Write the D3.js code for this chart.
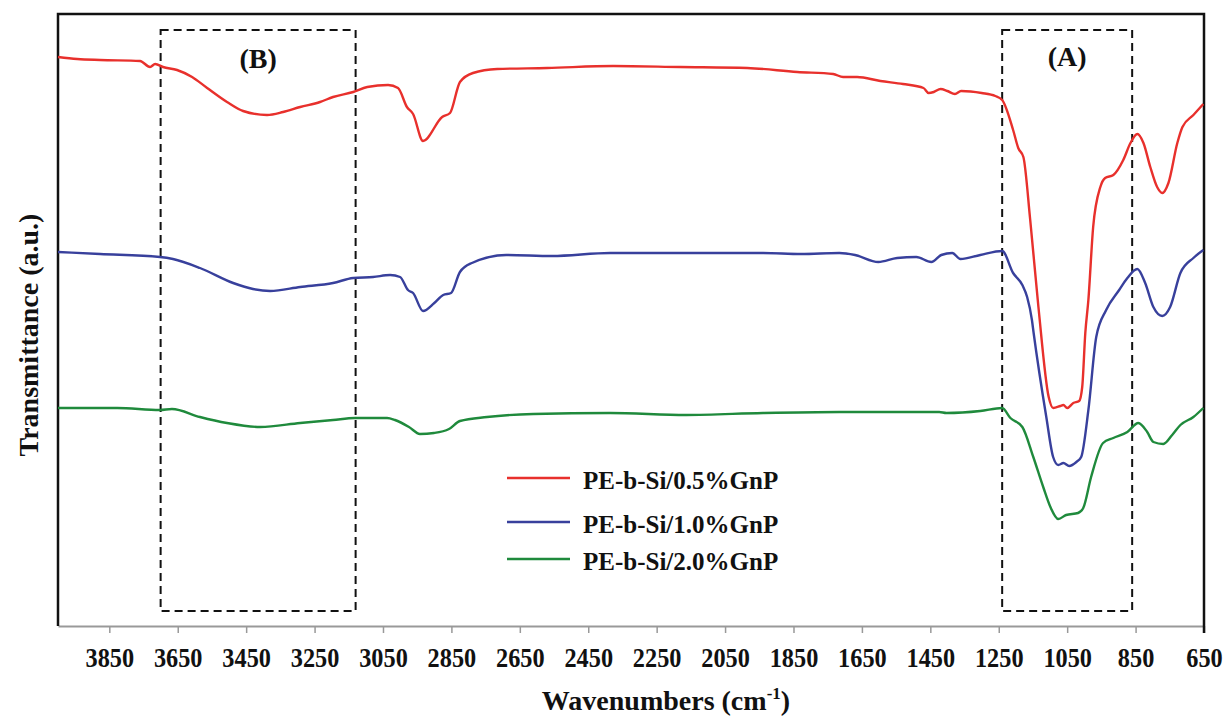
<!DOCTYPE html>
<html><head><meta charset="utf-8">
<script src="https://cdn.jsdelivr.net/npm/d3@7"></script>
<style>body{margin:0;background:#fff}svg{display:block}text{font-family:"Liberation Serif","Times New Roman",serif;font-weight:bold;fill:#111}</style>
</head><body><svg id="c" width="1226" height="717"></svg>
<script>
// ---- data ----
const seriesNames = ["PE-b-Si/0.5%GnP","PE-b-Si/1.0%GnP","PE-b-Si/2.0%GnP"];
const redWn = [4000,3944,3877,3760,3731,3716,3693,3652,3608,3564,3506,3459,3389,3342,3292,3234,3196,3137,3096,3035,3006,2980,2962,2933,2877,2854,2825,2787,2716,2570,2377,2181,1985,1839,1734,1705,1664,1596,1530,1470,1455,1440,1420,1400,1378,1360,1300,1260,1240,1208,1193,1178,1158,1134,1104,1091,1070,1061,1050,1032,1015,1006,997,988,974,953,939,915,886,865,845,827,807,787,772,754,728,713,681,652];
const redT  = [56.9,56.7,56.6,56.5,55.9,56.2,55.9,55.6,54.9,53.8,52.4,51.5,51.1,51.4,51.9,52.4,52.9,53.4,53.9,54.1,53.8,51.9,51.2,48.5,50.9,51.3,54.4,55.3,55.7,55.8,56.0,55.9,55.8,55.4,55.2,54.9,54.9,54.5,54.2,53.8,53.3,53.4,53.7,53.5,53.2,53.5,53.3,53.0,52.6,49.6,47.8,46.9,40.6,31.9,22.9,21.8,22.0,22.1,21.8,22.3,22.5,23.9,29.3,32.6,39.9,43.9,44.8,45.1,46.6,48.3,49.2,48.3,45.9,43.9,43.3,44.3,48.3,49.9,51.1,52.2];
const blueWn = [4000,3877,3702,3664,3585,3488,3430,3380,3292,3196,3137,3079,3029,3000,2977,2962,2933,2900,2874,2851,2825,2790,2690,2556,2386,2164,1939,1828,1716,1670,1602,1547,1491,1447,1418,1386,1362,1304,1240,1208,1181,1167,1153,1148,1111,1091,1076,1061,1044,1023,1009,988,965,936,898,874,845,822,798,772,749,719,681,652];
const blueT  = [37.4,37.2,36.9,36.7,35.8,34.3,33.7,33.5,33.9,34.3,34.8,34.9,35.1,34.9,33.6,33.3,31.5,32.3,33.1,33.3,35.4,36.3,37.1,37.0,37.3,37.3,37.3,37.2,37.3,37.1,36.4,36.8,36.9,36.4,37.1,37.3,36.7,37.1,37.5,35.3,34.1,32.9,30.6,29.3,20.9,16.9,16.1,16.3,16.0,16.4,16.9,21.6,28.9,31.6,33.6,34.8,35.7,34.3,31.9,31.0,31.9,35.3,36.8,37.6];
const greenWn = [4000,3827,3702,3667,3585,3506,3409,3292,3196,3132,3038,3015,2974,2942,2901,2857,2825,2746,2611,2386,2164,1939,1716,1491,1424,1403,1304,1240,1216,1181,1149,1120,1099,1076,1053,1018,1003,980,945,915,874,842,816,798,769,743,719,681,652];
const greenT  = [21.8,21.8,21.6,21.7,20.9,20.3,19.9,20.3,20.6,20.8,20.8,20.6,19.9,19.2,19.3,19.7,20.5,20.9,21.2,21.3,21.1,21.3,21.4,21.4,21.4,21.3,21.5,21.8,20.8,19.9,16.9,13.9,11.9,10.7,11.1,11.3,11.8,14.9,18.3,18.8,19.4,20.3,19.4,18.4,18.2,19.1,20.1,20.9,21.8];
const xTicks = [3850,3650,3450,3250,3050,2850,2650,2450,2250,2050,1850,1650,1450,1250,1050,850,650];
const regionLabels = ["(B)","(A)"];
const regionFrom = [3700,1240];
const regionTo   = [3130,860];

// ---- styles / layout ----
const colors = ["#e8302c","#38409c","#1f8a3c"];
const W=1226,H=717, L=58, R=1204, T=14, B=626;
const svg = d3.select("#c");
svg.append("rect").attr("width",W).attr("height",H).attr("fill","#fff");

const x = d3.scaleLinear().domain([4000,650]).range([L,R]);
const y = d3.scaleLinear().domain([0,61.2]).range([B,T]);

// axis
const ax = svg.append("g").attr("transform",`translate(0,${B})`)
  .call(d3.axisBottom(x).tickValues(xTicks).tickSize(7).tickSizeOuter(0).tickFormat(d3.format("d")));
ax.select(".domain").attr("stroke","#999").attr("stroke-width",2);
ax.selectAll(".tick line").attr("stroke","#999").attr("stroke-width",1.5);
ax.selectAll(".tick text").attr("y",41).attr("dy",0).attr("transform","scale(0.9,1)").style("font-size","27px")
  .style("font-family",'"Liberation Serif",serif').style("font-weight","bold").attr("fill","#111");

// frame (left, top, right)
svg.append("path").attr("d",`M${L},${B}V${T}H${R}V${B+7}`).attr("fill","none").attr("stroke","#111").attr("stroke-width",2.5);

// region boxes
const boxTop = 59.6, boxBot = 1.5;
regionLabels.forEach((lab,i)=>{
  const x0=x(regionFrom[i]), x1=x(regionTo[i]);
  svg.append("rect").attr("x",x0).attr("y",y(boxTop)).attr("width",x1-x0).attr("height",y(boxBot)-y(boxTop))
    .attr("fill","none").attr("stroke","#111").attr("stroke-width",2).attr("stroke-dasharray","8,5");
  svg.append("text").attr("x",(x0+x1)/2).attr("y",i===0?68:66).attr("text-anchor","middle")
    .style("font-size","28px").text(lab);
});

// lines
const series = [[redWn,redT],[blueWn,blueT],[greenWn,greenT]];
const line = d3.line().x(d=>x(d[0])).y(d=>y(d[1])).curve(d3.curveMonotoneX);
series.forEach((s,i)=>{
  const pts = s[0].map((w,j)=>[w,s[1][j]]);
  svg.append("path").datum(pts).attr("d",line).attr("fill","none")
    .attr("stroke",colors[i]).attr("stroke-width",2.4).attr("stroke-linejoin","round");
});

// legend
const legY=[478,522,559];
seriesNames.forEach((n,i)=>{
  svg.append("line").attr("x1",507).attr("x2",570).attr("y1",legY[i]).attr("y2",legY[i])
    .attr("stroke",colors[i]).attr("stroke-width",2.4);
  svg.append("text").attr("x",583).attr("y",legY[i]+11).style("font-size","25px").text(n);
});

// axis titles
const xt = svg.append("text").attr("x",666).attr("y",710).attr("text-anchor","middle").style("font-size","28px");
xt.append("tspan").text("Wavenumbers (cm");
xt.append("tspan").attr("dy",-11).style("font-size","17px").text("-1");
xt.append("tspan").attr("dy",11).text(")");
svg.append("text").attr("transform","translate(38,335) rotate(-90)").attr("text-anchor","middle")
  .style("font-size","28px").text("Transmittance (a.u.)");
</script></body></html>
